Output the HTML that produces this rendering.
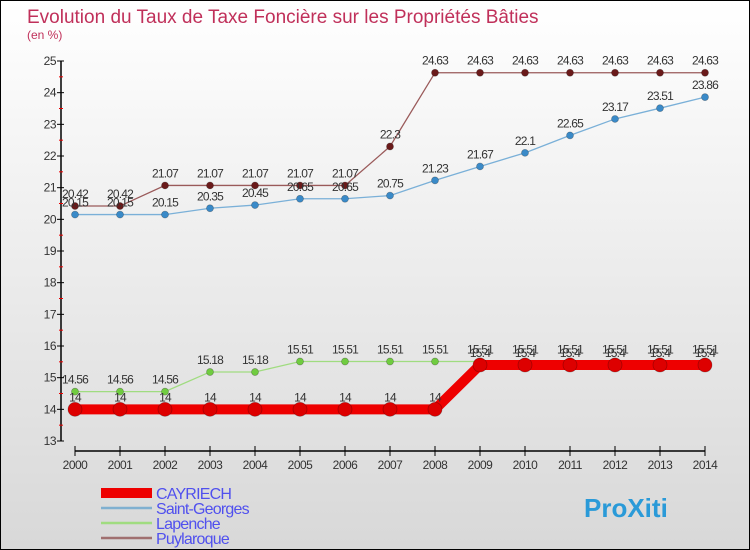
<!DOCTYPE html>
<html><head><meta charset="utf-8"><style>
html,body{margin:0;padding:0}
body{width:750px;height:550px;overflow:hidden;font-family:"Liberation Sans",sans-serif}
#wrap{position:relative;width:748px;height:548px;border:1px solid #000;background:linear-gradient(#fff,#d8d8d8)}
</style></head><body>
<div id="wrap">
<svg id="chart" width="748" height="548" style="position:absolute;left:0;top:0">
<text x="26" y="22" font-size="19" fill="#c0305a">Evolution du Taux de Taxe Foncière sur les Propriétés Bâties</text>
<text x="26" y="38" font-size="12" fill="#c0305a">(en %)</text>
</svg>
</div>
<script>
const years=[2000,2001,2002,2003,2004,2005,2006,2007,2008,2009,2010,2011,2012,2013,2014];
const yTicks=[13,14,15,16,17,18,19,20,21,22,23,24,25];
const cayriech=[14,14,14,14,14,14,14,14,14,15.4,15.4,15.4,15.4,15.4,15.4];
const saintGeorges=[20.15,20.15,20.15,20.35,20.45,20.65,20.65,20.75,21.23,21.67,22.1,22.65,23.17,23.51,23.86];
const lapenche=[14.56,14.56,14.56,15.18,15.18,15.51,15.51,15.51,15.51,15.51,15.51,15.51,15.51,15.51,15.51];
const puylaroque=[20.42,20.42,21.07,21.07,21.07,21.07,21.07,22.3,24.63,24.63,24.63,24.63,24.63,24.63,24.63];
const seriesNames=["CAYRIECH","Saint-Georges","Lapenche","Puylaroque"];

const NS="http://www.w3.org/2000/svg";
const svg=document.getElementById('chart');
const X=i=>74+(i)*(630/(years.length-1));
const Y=v=>440-(v-13)*(380/12);
function mk(t,a,p){const e=document.createElementNS(NS,t);for(const k in a)e.setAttribute(k,a[k]);(p||svg).appendChild(e);return e;}

// axes
let ax=mk('line',{x1:60,y1:Y(25),x2:60,y2:Y(13),stroke:'#000','stroke-width':1.5});


yTicks.forEach(v=>{
  mk('line',{x1:56,y1:Y(v),x2:63,y2:Y(v),stroke:'#000'});
  if(v<25){let m=mk('line',{x1:58,y1:Y(v+0.5),x2:62,y2:Y(v+0.5),stroke:'#e00'});}
  let t=mk('text',{x:55,y:Y(v)+4,'text-anchor':'end','font-size':12,fill:'#333','letter-spacing':'-0.5'});
  t.textContent=v;
  
  
});
let xa=mk('line',{x1:X(0),y1:450,x2:X(years.length-1),y2:450,stroke:'#000','stroke-width':1.5});


years.forEach((yr,i)=>{
  mk('line',{x1:X(i),y1:445,x2:X(i),y2:455,stroke:'#000'});
  let t=mk('text',{x:X(i),y:468,'text-anchor':'middle','font-size':12,fill:'#333','letter-spacing':'-0.5'});
  t.textContent=yr;
  
  
});

function series(data,name,color,dot,lw,r){
  const g=mk('g',{});
  
  
  mk('polyline',{points:data.map((v,i)=>X(i)+','+Y(v)).join(' '),fill:'none',stroke:color,'stroke-width':lw},g);
  data.forEach((v,i)=>{
    const c=mk('circle',{cx:X(i),cy:Y(v),r:r,fill:dot,stroke:'rgba(0,0,0,0.3)','stroke-width':0.7},g);
    
    
    const t=mk('text',{x:X(i),y:Y(v)-8,'text-anchor':'middle','font-size':12,fill:'#333','letter-spacing':'-0.8'},g);
    t.textContent=v;
    
    
  });
}
series(puylaroque,'puylaroque','#9a5a5a','#6a1a1a',1.3,3.5);
series(saintGeorges,'saint-georges','#7ab0d8','#3a8ac8',1.3,3.5);
series(lapenche,'lapenche','#a0dc80','#70cc40',1.3,3.5);
series(cayriech,'cayriech','#ee0000','#dd0000',10,7);

const legColors=['#ee0000','#80b0d0','#a0dc80','#a07070'];
const legW=[10,2.5,2.5,2.5];
seriesNames.forEach((n,i)=>{
  const y=492+i*15;
  const g=mk('g',{});
  
  
  mk('line',{x1:100,y1:y,x2:151,y2:y,stroke:legColors[i],'stroke-width':legW[i]},g);
  const t=mk('text',{x:155,y:y+6,'font-size':16,fill:'#5050ee','letter-spacing':'-0.8'},g);
  t.textContent=n;
});
const lg=mk('text',{x:583,y:516,'font-size':26,'font-weight':'bold',fill:'#2a9ad8'});
lg.textContent='ProXiti';


</script>
</body></html>
